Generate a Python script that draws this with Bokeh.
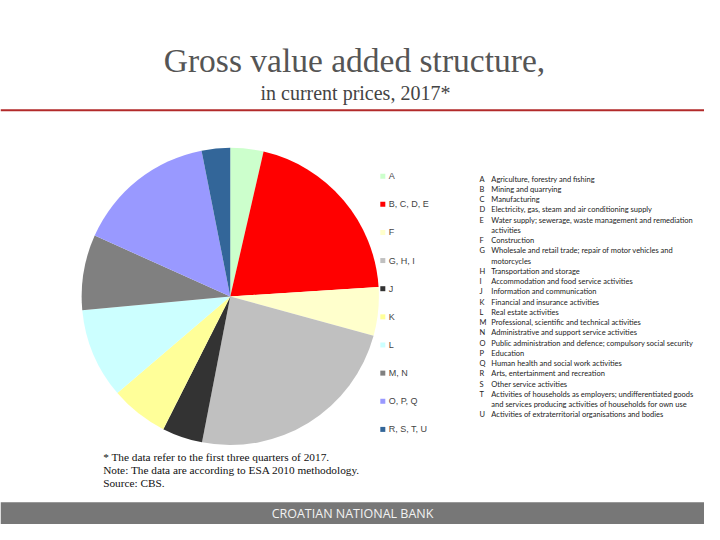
import numpy as np
from bokeh.plotting import figure
from bokeh.models import ColumnDataSource, Range1d
from bokeh.core.properties import value
from bokeh.embed import file_html
from bokeh.resources import INLINE

# ---------------- data ----------------
categories = ["A", "B, C, D, E", "F", "G, H, I", "J", "K", "L", "M, N", "O, P, Q", "R, S, T, U"]
shares = [3.6, 20.4, 5.3, 23.8, 4.4, 6.3, 9.8, 8.2, 15.2, 3.1]
colors = ["#CCFFCC", "#FF0000", "#FFFFCC", "#C0C0C0", "#333333",
          "#FFFF99", "#CCFFFF", "#808080", "#9999FF", "#336699"]

code_letters = ["A", "B", "C", "D", "E", "", "F", "G", "", "H", "I", "J", "K", "L",
                "M", "N", "O", "P", "Q", "R", "S", "T", "", "U"]
code_texts = [
    "Agriculture, forestry and fishing",
    "Mining and quarrying",
    "Manufacturing",
    "Electricity, gas, steam and air conditioning supply",
    "Water supply; sewerage, waste management and remediation",
    "activities",
    "Construction",
    "Wholesale and retail trade; repair of motor vehicles and",
    "motorcycles",
    "Transportation and storage",
    "Accommodation and food service activities",
    "Information and communication",
    "Financial and insurance activities",
    "Real estate activities",
    "Professional, scientific and technical activities",
    "Administrative and support service activities",
    "Public administration and defence; compulsory social security",
    "Education",
    "Human health and social work activities",
    "Arts, entertainment and recreation",
    "Other service activities",
    "Activities of households as employers; undifferentiated goods",
    "and services producing activities of households for own use",
    "Activities of extraterritorial organisations and bodies",
]

title = "Gross value added structure,"
subtitle = "in current prices, 2017*"
notes = ["* The data refer to the first three quarters of 2017.",
         "Note: The data are according to ESA 2010 methodology.",
         "Source: CBS."]
footer = "CROATIAN NATIONAL BANK"

# ---------------- figure (data coords = reference pixels, y flipped) ----------------
W, H = 704, 524
p = figure(width=W, height=H, x_range=Range1d(0, 720), y_range=Range1d(0, 540),
           output_backend="svg", toolbar_location=None, min_border=0)
p.axis.visible = False
p.grid.visible = False
p.outline_line_color = None
p.background_fill_color = "white"
p.border_fill_color = "white"

def Y(y):
    return 540 - np.asarray(y, dtype=float)

# title
p.text(x=[362], y=Y([62]), text=[title], text_font=value("Liberation Serif"),
       text_font_size="33.5px", text_color="#555555", text_align="center", text_baseline="middle")
p.text(x=[363], y=Y([95]), text=[subtitle], text_font=value("Liberation Serif"),
       text_font_size="20px", text_color="#444444", text_align="center", text_baseline="middle")
# red rule
p.segment(x0=[0], y0=Y([113]), x1=[720], y1=Y([113]), line_color="#B22A2A", line_width=2)

# pie
vals = np.array(shares, dtype=float)
frac = vals / vals.sum()
cum = np.cumsum(frac)
start = np.pi / 2 - (cum - frac) * 2 * np.pi
end = np.pi / 2 - cum * 2 * np.pi
src = ColumnDataSource(dict(start=start, end=end, color=colors, cat=categories))
p.wedge(x=235, y=float(Y(305)), radius=152, start_angle="start", end_angle="end",
        direction="clock", fill_color="color", line_color=None, source=src)

# legend (manual)
n = len(categories)
ly = 181 + 29 * np.arange(n)
p.scatter(x=[391] * n, y=Y(ly), marker="square", size=5, fill_color=colors, line_color=None)
p.text(x=[397] * n, y=Y(ly), text=categories, text_font=value("Liberation Sans"),
       text_font_size="9px", text_color="#444444", text_baseline="middle")

# code descriptions
m = len(code_texts)
cy = 184 + 10.57 * np.arange(m)
p.text(x=[490] * m, y=Y(cy), text=code_letters, text_font=value("Lato"),
       text_font_size="7.5px", text_color="#222222", text_baseline="middle")
p.text(x=[502] * m, y=Y(cy), text=code_texts, text_font=value("Lato"),
       text_font_size="7.5px", text_color="#222222", text_baseline="middle")

# notes
p.text(x=[105] * 3, y=Y([470, 484, 497]), text=notes, text_font=value("Liberation Serif"),
       text_font_size="11.3px", text_color="#111111", text_baseline="middle")

# bottom bar
p.quad(left=[0], right=[720], bottom=Y([540]), top=Y([517]), fill_color="#777777", line_color=None)
p.text(x=[360], y=Y([529]), text=[footer], text_font=value("Open Sans"),
       text_font_size="12.5px", text_color="#F2F2F2", text_align="center", text_baseline="middle")

open("out.html", "w").write(file_html(p, INLINE))
